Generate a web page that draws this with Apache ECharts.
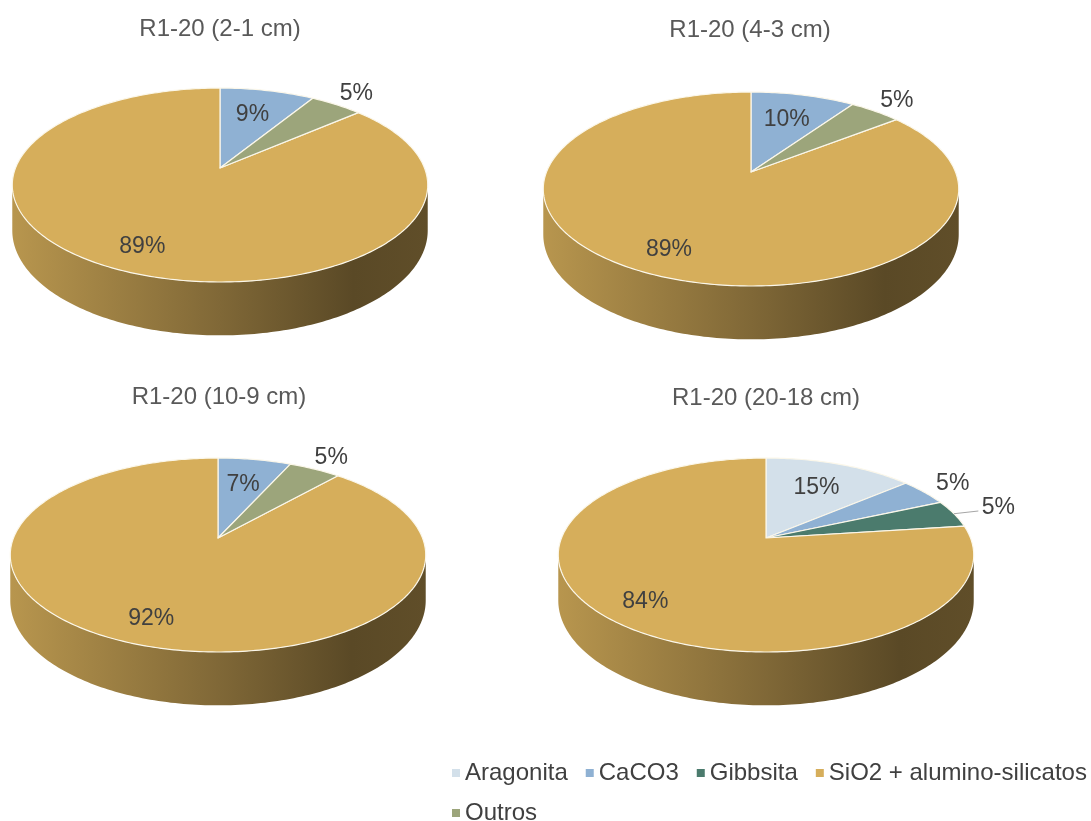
<!DOCTYPE html>
<html>
<head>
<meta charset="utf-8">
<script src="https://cdn.jsdelivr.net/npm/echarts@6/dist/echarts.min.js"></script>
<style>
html,body{margin:0;padding:0;background:#ffffff;}
#main{width:1091px;height:821px;}
</style>
</head>
<body>
<div id="main"></div>
<script>
// ---------- DATA ----------
const chartTitles = ['R1-20 (2-1 cm)', 'R1-20 (4-3 cm)', 'R1-20 (10-9 cm)', 'R1-20 (20-18 cm)'];
const categories = ['Aragonita', 'CaCO3', 'Gibbsita', 'SiO2 + alumino-silicatos', 'Outros'];
const sliceOrder = ['Aragonita', 'CaCO3', 'Gibbsita', 'Outros', 'SiO2 + alumino-silicatos'];
const aragonita = [null, null, null, 15];
const caco3     = [9, 10, 7, 5];
const gibbsita  = [null, null, null, 5];
const sio2      = [89, 89, 92, 84];
const outros    = [5, 5, 5, null];

// ---------- STYLE / LAYOUT ----------
const valuesByCategory = {
  'Aragonita': aragonita,
  'CaCO3': caco3,
  'Gibbsita': gibbsita,
  'SiO2 + alumino-silicatos': sio2,
  'Outros': outros
};
const colors = {
  'Aragonita': '#d3e0ea',
  'CaCO3': '#8fb1d3',
  'Gibbsita': '#4b7b6d',
  'SiO2 + alumino-silicatos': '#d6ae5b',
  'Outros': '#9ca57b'
};
const pieLayout = [
  {cx: 220, cy: 168, tx: 220, ty: 31},
  {cx: 751, cy: 172, tx: 750, ty: 32},
  {cx: 218, cy: 538, tx: 219, ty: 399},
  {cx: 766, cy: 538, tx: 766, ty: 400}
];
const RX = 204.5, RY = 94, PD = 5.7, DEPTH = 44;
const SIL = Math.acos(-1 / PD);
const FONT = "'Liberation Sans', Arial, sans-serif";

function proj(g, theta, f, z) {
  const u = Math.sin(theta) * f, v = -Math.cos(theta) * f;
  const s = PD / (PD - v);
  return [g.cx + RX * u * s, g.cy + (RY * v + z) * s];
}
function shade(hex, k) {
  const n = parseInt(hex.slice(1), 16);
  const r = Math.round(((n >> 16) & 255) * k), gg = Math.round(((n >> 8) & 255) * k), b = Math.round((n & 255) * k);
  return 'rgb(' + r + ',' + gg + ',' + b + ')';
}

// cumulative angles per chart
function sliceRange(ci, cat) {
  let total = 0;
  sliceOrder.forEach(c => { const v = valuesByCategory[c][ci]; if (v != null) total += v; });
  let acc = 0, start = 0, end = 0;
  sliceOrder.forEach(c => {
    const v = valuesByCategory[c][ci];
    if (v == null) return;
    if (c === cat) { start = acc; end = acc + v; }
    acc += v;
  });
  return [start / total * 2 * Math.PI, end / total * 2 * Math.PI, total];
}

function renderSlice(params, api) {
  const ci = api.value(0), val = api.value(1), a0 = api.value(2), a1 = api.value(3), total = api.value(4);
  const g = pieLayout[ci];
  const color = api.visual('color');
  const children = [];
  const step = Math.PI / 180;
  const n = Math.max(2, Math.ceil((a1 - a0) / step));
  const topPts = [proj(g, 0, 0, 0)];
  for (let k = 0; k <= n; k++) topPts.push(proj(g, a0 + (a1 - a0) * k / n, 1, 0));
  children.push({
    type: 'polygon', z2: 10, shape: {points: topPts},
    style: {fill: color, stroke: '#fbf7ea', lineWidth: 1.2, lineJoin: 'round'}
  });
  const sA = Math.max(a0, SIL), sB = Math.min(a1, 2 * Math.PI - SIL);
  if (sB > sA) {
    const m = Math.max(2, Math.ceil((sB - sA) / step));
    const top = [], bot = [];
    for (let k = 0; k <= m; k++) {
      const t = sA + (sB - sA) * k / m;
      top.push(proj(g, t, 1, 0));
      bot.push(proj(g, t, 1, DEPTH));
    }
    const grad = new echarts.graphic.LinearGradient(g.cx - RX * 1.02, 0, g.cx + RX * 1.02, 0, [
      {offset: 0, color: shade(color, 0.86)},
      {offset: 0.5, color: shade(color, 0.6)},
      {offset: 0.82, color: shade(color, 0.42)},
      {offset: 1, color: shade(color, 0.45)}
    ], true);
    children.push({type: 'polygon', z2: 1, shape: {points: top.concat(bot.reverse())}, style: {fill: grad}});
  }
  // label
  const share = val / total;
  const mid = (a0 + a1) / 2;
  const inside = share >= 0.06;
  const leader = !inside && mid > 65 * Math.PI / 180;
  const f = share > 0.5 ? 0.8 : (inside ? 0.65 : (leader ? 1.25 : 1.2));
  const p = proj(g, mid, f, 0);
  children.push({
    type: 'text', z2: 20, x: p[0], y: p[1],
    style: {text: val + '%', fill: '#404040', font: '23px ' + FONT, align: 'center', verticalAlign: 'middle'}
  });
  if (leader) {
    const r = proj(g, mid, 1.0, 0);
    children.push({
      type: 'line', z2: 20,
      shape: {x1: r[0], y1: r[1], x2: p[0] - 20, y2: p[1] + 3},
      style: {stroke: '#a6a6a6', lineWidth: 1}
    });
  }
  return {type: 'group', children: children};
}

const series = categories.map(cat => {
  const data = [];
  chartTitles.forEach((t, ci) => {
    const v = valuesByCategory[cat][ci];
    if (v == null) return;
    const r = sliceRange(ci, cat);
    data.push([ci, v, r[0], r[1], r[2]]);
  });
  return {
    type: 'custom', name: cat, coordinateSystem: 'none',
    itemStyle: {color: colors[cat]},
    renderItem: renderSlice, data: data, silent: true, animation: false
  };
});

const chart = echarts.init(document.getElementById('main'), null, {renderer: 'canvas'});
chart.setOption({
  backgroundColor: '#ffffff',
  animation: false,
  title: chartTitles.map((t, i) => ({
    text: t, left: pieLayout[i].tx, top: pieLayout[i].ty - 14, textAlign: 'center', padding: 0,
    textStyle: {fontSize: 24, fontWeight: 'normal', color: '#595959', fontFamily: FONT}
  })),
  legend: [
    {
      data: categories.slice(0, 4), left: 452, top: 761, padding: 0, itemGap: 18,
      icon: 'rect', itemWidth: 8, itemHeight: 8, selectedMode: false,
      textStyle: {fontSize: 24, color: '#404040', fontFamily: FONT}
    },
    {
      data: categories.slice(4), left: 452, top: 801, padding: 0,
      icon: 'rect', itemWidth: 8, itemHeight: 8, selectedMode: false,
      textStyle: {fontSize: 24, color: '#404040', fontFamily: FONT}
    }
  ],
  series: series
});
</script>
</body>
</html>
